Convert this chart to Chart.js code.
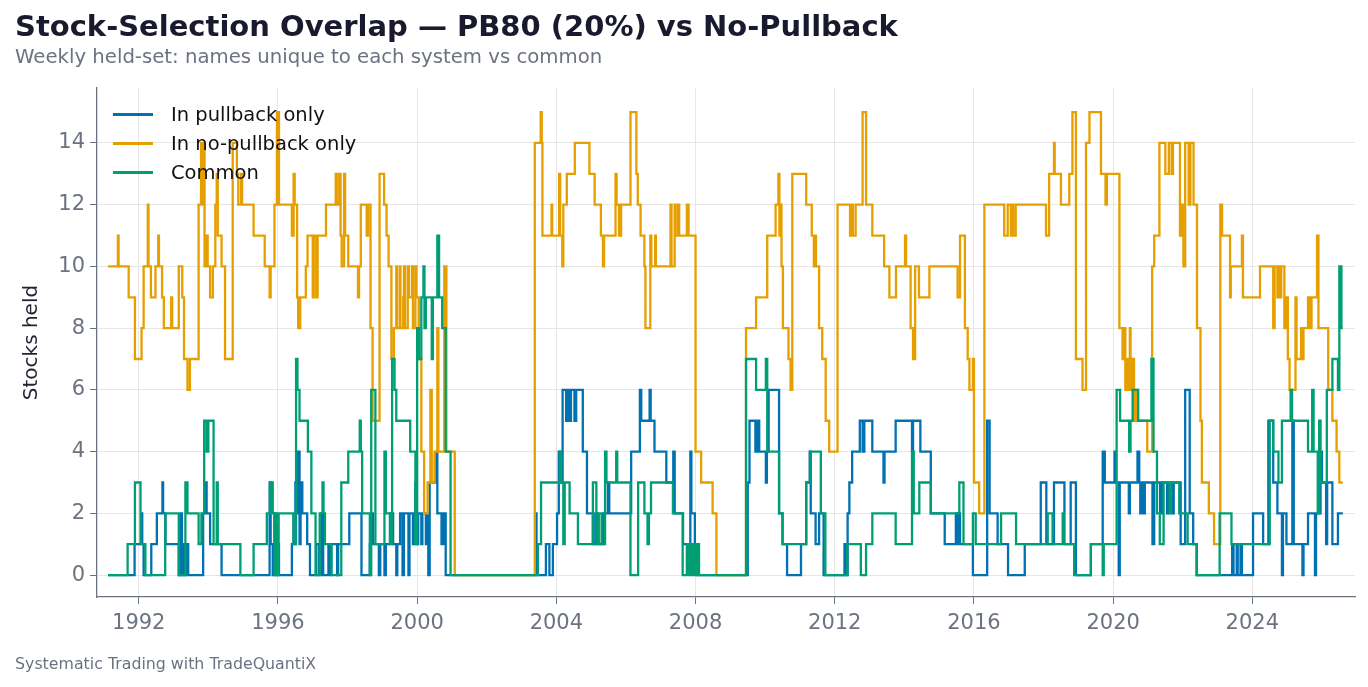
<!DOCTYPE html>
<html>
<head>
<meta charset="utf-8">
<script src="https://cdn.jsdelivr.net/npm/chart.js@4.4.1/dist/chart.umd.min.js"></script>
<style>
  html, body { margin: 0; padding: 0; background: #fff; }
  body { width: 1368px; height: 687px; position: relative; overflow: hidden; font-family: "DejaVu Sans", sans-serif; }
  #chart { position: absolute; left: 0; top: 0; }
  .title { position: absolute; left: 15px; top: 9px; font-size: 29px; font-weight: bold; color: #1a1a2e; white-space: nowrap; }
  .subtitle { position: absolute; left: 15px; top: 45px; font-size: 19.7px; color: #6b7280; white-space: nowrap; }
  .footer { position: absolute; left: 15px; top: 654px; font-size: 15.8px; color: #6b7280; white-space: nowrap; }
  .legend { position: absolute; left: 113px; top: 100px; }
  .legend div { height: 29px; display: flex; align-items: center; font-size: 19.5px; color: #111; }
  .legend span.swatch { display: inline-block; width: 40px; height: 2.3px; margin-right: 18px; }
</style>
</head>
<body>
<canvas id="chart" width="1368" height="687"></canvas>
<div class="title">Stock-Selection Overlap — PB80 (20%) vs No-Pullback</div>
<div class="subtitle">Weekly held-set: names unique to each system vs common</div>
<div class="footer">Systematic Trading with TradeQuantiX</div>
<div class="legend">
  <div><span class="swatch" style="background:#0072B2"></span>In pullback only</div>
  <div><span class="swatch" style="background:#E69F00"></span>In no-pullback only</div>
  <div><span class="swatch" style="background:#009E73"></span>Common</div>
</div>
<script>
// weekly held counts, stored as [year, count] change points (count holds until next point)
const yearTicks = [1992, 1996, 2000, 2004, 2008, 2012, 2016, 2020, 2024];
const countTicks = [0, 2, 4, 6, 8, 10, 12, 14];
const lastWeek = 2026.60;

const pullbackOnly = [
  [1991.12,0],[1991.88,1],[1992.08,2],[1992.10,1],[1992.14,0],[1992.36,1],[1992.52,2],[1992.68,3],[1992.70,2],
  [1992.77,1],[1993.15,0],[1993.20,2],[1993.24,0],[1993.30,1],[1993.33,0],[1993.38,1],[1993.42,0],[1993.85,2],
  [1993.93,3],[1993.95,2],[1994.05,1],[1994.38,0],[1995.76,3],[1995.79,1],[1995.85,0],[1995.90,2],[1995.93,0],
  [1996.00,1],[1996.03,0],[1996.40,1],[1996.50,3],[1996.53,4],[1996.56,2],[1996.58,4],[1996.62,1],[1996.65,3],
  [1996.70,2],[1996.84,1],[1996.92,0],[1997.10,1],[1997.18,0],[1997.25,2],[1997.30,0],[1997.45,1],[1997.50,0],
  [1997.53,1],[1997.70,0],[1997.73,1],[1998.05,2],[1998.40,0],[1998.64,1],[1998.70,2],[1998.73,1],[1998.90,0],
  [1998.94,1],[1999.06,0],[1999.10,1],[1999.22,2],[1999.31,1],[1999.40,0],[1999.43,1],[1999.51,2],[1999.58,0],
  [1999.62,2],[1999.75,0],[1999.78,2],[1999.88,1],[1999.95,3],[1999.98,1],[2000.03,2],[2000.12,1],[2000.15,2],
  [2000.25,1],[2000.28,2],[2000.32,0],[2000.36,3],[2000.55,4],[2000.58,2],[2000.70,1],[2000.76,2],[2000.82,0],
  [2003.40,2],[2003.43,0],[2003.70,1],[2003.80,0],[2003.90,1],[2004.02,2],[2004.07,4],[2004.12,3],[2004.18,6],
  [2004.28,5],[2004.32,6],[2004.38,5],[2004.42,6],[2004.52,5],[2004.57,6],[2004.76,4],[2004.88,2],[2005.05,1],
  [2005.12,2],[2005.18,1],[2005.34,2],[2005.48,3],[2005.52,2],[2006.15,4],[2006.40,6],[2006.44,5],[2006.68,6],
  [2006.71,5],[2006.82,4],[2007.16,3],[2007.36,4],[2007.40,2],[2007.64,1],[2007.85,4],[2007.88,2],[2007.98,1],
  [2008.06,0],[2009.50,3],[2009.55,5],[2009.72,4],[2009.78,5],[2009.83,4],[2010.02,3],[2010.05,4],[2010.10,6],
  [2010.40,2],[2010.50,1],[2010.63,0],[2011.03,1],[2011.18,3],[2011.28,4],[2011.31,2],[2011.45,1],[2011.55,2],
  [2011.68,0],[2012.28,1],[2012.33,0],[2012.37,2],[2012.42,3],[2012.50,4],[2012.72,5],[2012.80,4],[2012.85,5],
  [2013.08,4],[2013.40,3],[2013.43,4],[2013.75,5],[2014.22,4],[2014.25,5],[2014.46,4],[2014.76,2],[2015.16,1],
  [2015.48,2],[2015.52,1],[2015.56,2],[2015.60,1],[2015.97,0],[2016.38,5],[2016.45,2],[2016.68,1],[2016.98,0],
  [2017.46,1],[2017.92,3],[2018.08,1],[2018.30,3],[2018.60,1],[2018.78,3],[2018.93,0],[2019.36,1],[2019.70,4],
  [2019.76,3],[2020.04,4],[2020.08,3],[2020.16,0],[2020.19,3],[2020.45,2],[2020.48,3],[2020.70,4],[2020.75,3],
  [2020.78,2],[2020.82,3],[2020.88,2],[2020.91,3],[2021.13,1],[2021.18,3],[2021.35,2],[2021.40,3],[2021.55,2],
  [2021.58,3],[2021.70,2],[2021.74,3],[2021.94,1],[2022.07,6],[2022.20,2],[2022.30,1],[2022.40,0],[2023.42,1],
  [2023.46,0],[2023.55,1],[2023.58,0],[2023.66,1],[2023.70,0],[2024.02,2],[2024.31,1],[2024.46,5],[2024.60,3],
  [2024.72,2],[2024.85,0],[2024.88,2],[2024.98,1],[2025.15,5],[2025.19,1],[2025.44,0],[2025.47,1],[2025.60,2],
  [2025.80,0],[2025.83,2],[2025.96,4],[2026.00,3],[2026.12,1],[2026.15,3],[2026.30,1],[2026.46,2]
];

const noPullbackOnly = [
  [1991.12,10],[1991.40,11],[1991.42,10],[1991.71,9],[1991.89,7],[1992.08,8],[1992.14,10],[1992.26,12],[1992.28,10],
  [1992.35,9],[1992.48,10],[1992.56,11],[1992.58,10],[1992.67,9],[1992.72,8],[1992.93,9],[1992.96,8],[1993.15,10],
  [1993.25,9],[1993.30,7],[1993.40,6],[1993.47,7],[1993.72,12],[1993.79,14],[1993.82,12],[1993.86,14],[1993.89,10],
  [1993.95,11],[1993.98,10],[1994.05,9],[1994.13,10],[1994.20,12],[1994.24,13],[1994.27,11],[1994.38,10],[1994.48,7],
  [1994.70,14],[1994.82,13],[1994.86,12],[1994.94,13],[1994.97,12],[1995.30,11],[1995.62,10],[1995.76,9],[1995.79,10],
  [1995.90,12],[1995.97,15],[1996.03,12],[1996.40,11],[1996.45,13],[1996.48,12],[1996.55,9],[1996.58,8],[1996.64,9],
  [1996.80,10],[1996.85,11],[1997.00,9],[1997.03,11],[1997.10,9],[1997.14,11],[1997.38,12],[1997.66,13],[1997.69,12],
  [1997.76,13],[1997.80,11],[1997.83,10],[1997.90,13],[1997.93,11],[1998.02,10],[1998.30,9],[1998.33,10],[1998.38,12],
  [1998.55,11],[1998.59,12],[1998.66,8],[1998.72,5],[1998.92,13],[1999.05,12],[1999.12,11],[1999.18,10],[1999.26,7],
  [1999.33,8],[1999.40,10],[1999.42,8],[1999.50,10],[1999.52,8],[1999.60,9],[1999.62,10],[1999.65,8],[1999.73,10],
  [1999.76,9],[1999.85,10],[1999.88,8],[1999.95,10],[1999.98,9],[2000.05,7],[2000.12,4],[2000.20,2],[2000.30,3],
  [2000.38,6],[2000.42,3],[2000.50,4],[2000.58,8],[2000.61,4],[2000.78,10],[2000.84,4],[2001.08,0],[2003.38,14],
  [2003.55,15],[2003.58,14],[2003.60,11],[2003.86,12],[2003.88,11],[2004.08,13],[2004.11,11],[2004.17,10],[2004.20,12],
  [2004.30,13],[2004.53,14],[2004.95,13],[2005.10,12],[2005.28,11],[2005.34,10],[2005.37,11],[2005.70,13],[2005.73,12],
  [2005.80,11],[2005.86,12],[2006.13,15],[2006.30,13],[2006.34,12],[2006.42,11],[2006.53,10],[2006.56,8],[2006.70,11],
  [2006.73,10],[2006.84,11],[2006.86,10],[2007.28,12],[2007.31,10],[2007.40,12],[2007.43,11],[2007.50,12],[2007.53,11],
  [2007.75,12],[2007.80,11],[2008.00,4],[2008.16,3],[2008.49,2],[2008.60,0],[2009.45,8],[2009.74,9],[2010.06,11],
  [2010.30,12],[2010.38,13],[2010.41,11],[2010.44,12],[2010.47,10],[2010.51,8],[2010.67,7],[2010.73,6],[2010.78,13],
  [2011.18,12],[2011.34,11],[2011.40,10],[2011.43,11],[2011.46,10],[2011.55,8],[2011.64,7],[2011.74,5],[2011.84,4],
  [2012.08,12],[2012.44,11],[2012.50,12],[2012.52,11],[2012.60,12],[2012.80,15],[2012.90,12],[2013.08,11],[2013.42,10],
  [2013.57,9],[2013.76,10],[2014.02,11],[2014.05,10],[2014.18,8],[2014.25,7],[2014.31,10],[2014.42,9],[2014.72,10],
  [2015.53,9],[2015.60,11],[2015.74,8],[2015.82,7],[2015.87,6],[2015.97,7],[2016.00,3],[2016.15,2],[2016.30,12],
  [2016.87,11],[2016.97,12],[2017.06,11],[2017.10,12],[2017.13,11],[2017.20,12],[2018.07,11],[2018.16,13],[2018.30,14],
  [2018.32,13],[2018.50,12],[2018.74,13],[2018.83,15],[2018.93,7],[2019.12,6],[2019.22,14],[2019.32,15],[2019.65,13],
  [2019.78,12],[2019.82,13],[2020.18,8],[2020.27,7],[2020.32,8],[2020.35,6],[2020.40,7],[2020.45,6],[2020.48,8],
  [2020.50,6],[2020.56,7],[2020.60,5],[2020.66,6],[2020.70,5],[2020.98,4],[2021.12,10],[2021.18,11],[2021.33,14],
  [2021.50,13],[2021.60,14],[2021.68,13],[2021.72,14],[2021.92,11],[2021.97,12],[2022.02,10],[2022.07,14],[2022.17,12],
  [2022.22,14],[2022.31,12],[2022.41,8],[2022.51,5],[2022.55,3],[2022.75,2],[2022.90,1],[2023.08,12],[2023.13,11],
  [2023.36,9],[2023.38,10],[2023.70,11],[2023.73,9],[2024.22,10],[2024.60,8],[2024.64,10],[2024.72,9],[2024.75,10],
  [2024.80,9],[2024.83,10],[2024.92,8],[2024.98,9],[2025.02,7],[2025.07,6],[2025.24,9],[2025.27,7],[2025.40,8],
  [2025.44,7],[2025.47,8],[2025.60,9],[2025.66,8],[2025.70,9],[2025.86,11],[2025.90,8],[2026.18,6],[2026.30,5],
  [2026.42,4],[2026.50,3]
];

const common = [
  [1991.12,0],[1991.68,1],[1991.89,3],[1992.05,1],[1992.19,0],[1992.76,2],[1993.15,0],[1993.34,3],[1993.40,2],
  [1993.72,1],[1993.80,2],[1993.88,5],[1993.95,4],[1994.00,5],[1994.15,1],[1994.24,3],[1994.27,1],[1994.92,0],
  [1995.30,1],[1995.68,2],[1995.78,3],[1995.85,2],[1995.90,0],[1995.95,2],[1995.98,0],[1996.02,2],[1996.44,1],
  [1996.52,7],[1996.56,6],[1996.62,5],[1996.86,4],[1996.96,2],[1997.08,0],[1997.20,2],[1997.28,3],[1997.31,2],
  [1997.35,1],[1997.54,0],[1997.82,3],[1998.02,4],[1998.35,5],[1998.38,4],[1998.42,2],[1998.64,0],[1998.68,6],
  [1998.80,1],[1999.06,4],[1999.10,2],[1999.22,1],[1999.28,7],[1999.35,6],[1999.40,5],[1999.80,4],[1999.95,1],
  [2000.00,8],[2000.05,7],[2000.12,9],[2000.18,10],[2000.21,8],[2000.25,9],[2000.42,7],[2000.45,9],[2000.58,11],
  [2000.63,9],[2000.72,8],[2000.82,4],[2000.96,0],[2003.47,1],[2003.56,3],[2004.10,4],[2004.14,3],[2004.20,1],
  [2004.24,3],[2004.38,2],[2004.62,1],[2005.05,3],[2005.15,1],[2005.22,2],[2005.30,1],[2005.40,4],[2005.44,3],
  [2005.72,4],[2005.75,3],[2006.13,0],[2006.35,3],[2006.53,2],[2006.62,1],[2006.66,2],[2006.72,3],[2007.35,2],
  [2007.63,0],[2007.75,1],[2007.80,0],[2007.86,1],[2007.90,0],[2007.95,1],[2008.00,0],[2008.04,1],[2008.10,0],
  [2009.45,7],[2009.74,6],[2010.02,7],[2010.06,4],[2010.40,2],[2010.50,1],[2011.18,3],[2011.30,4],[2011.60,2],
  [2011.73,0],[2012.36,1],[2012.75,0],[2012.90,1],[2013.08,2],[2013.75,1],[2014.22,4],[2014.27,2],[2014.43,3],
  [2014.76,2],[2015.58,3],[2015.70,1],[2015.97,2],[2016.05,1],[2016.78,2],[2017.21,1],[2018.12,2],[2018.26,1],
  [2018.55,2],[2018.58,1],[2018.88,0],[2019.36,1],[2019.70,0],[2019.73,1],[2020.10,6],[2020.20,5],[2020.46,4],
  [2020.50,5],[2020.56,6],[2020.72,5],[2021.10,7],[2021.16,4],[2021.26,2],[2021.34,1],[2021.45,3],[2021.62,2],
  [2021.66,3],[2021.90,2],[2022.14,1],[2022.40,0],[2023.06,2],[2023.40,1],[2024.50,5],[2024.60,4],[2024.75,3],
  [2024.85,5],[2025.10,6],[2025.14,5],[2025.60,4],[2025.72,6],[2025.76,4],[2025.88,2],[2025.92,5],[2025.96,3],
  [2026.14,6],[2026.30,7],[2026.46,6],[2026.50,10],[2026.56,8]
];

// turn change points into stepped x/y data, closing at the last week
function toSteps(list) {
  const pts = list.map(p => ({ x: p[0], y: p[1] }));
  pts.push({ x: lastWeek, y: list[list.length - 1][1] });
  return pts;
}

const ctx = document.getElementById('chart').getContext('2d');
const overlapChart = new Chart(ctx, {
    type: 'line',
    data: {
        datasets: [
            { label: 'In pullback only', data: toSteps(pullbackOnly), borderColor: '#0072B2', order: 2 },
            { label: 'In no-pullback only', data: toSteps(noPullbackOnly), borderColor: '#E69F00', order: 1 },
            { label: 'Common', data: toSteps(common), borderColor: '#009E73', order: 0 }
        ]
    },
    options: {
        responsive: false,
        animation: false,
        layout: { padding: { top: 88, right: 13, bottom: 0, left: 0 } },
        elements: {
            line: { stepped: true, borderWidth: 2.3, tension: 0, fill: false, borderJoinStyle: 'miter' },
            point: { radius: 0, hoverRadius: 0 }
        },
        plugins: { legend: { display: false }, tooltip: { enabled: false } },
        scales: {
            x: {
                type: 'linear',
                min: 1990.8,
                max: 2026.95,
                afterFit: s => { s.height = 90; },
                afterBuildTicks: s => { s.ticks = yearTicks.map(v => ({ value: v })); },
                grid: { color: '#e6e6e6', lineWidth: 1, tickColor: '#6b7280', tickLength: 7 },
                border: { color: '#6b7280', width: 1.3 },
                ticks: {
                    color: '#6b7280', padding: 7,
                    font: { family: 'DejaVu Sans', size: 21 },
                    callback: v => String(v)
                }
            },
            y: {
                min: -0.71,
                max: 15.78,
                afterFit: s => { s.width = 97; },
                afterBuildTicks: s => { s.ticks = countTicks.map(v => ({ value: v })); },
                grid: { color: '#e6e6e6', lineWidth: 1, tickColor: '#6b7280', tickLength: 7 },
                border: { color: '#6b7280', width: 1.3 },
                ticks: { color: '#6b7280', padding: 5, font: { family: 'DejaVu Sans', size: 21 } },
                title: {
                    display: true, text: 'Stocks held', color: '#1f2430',
                    font: { family: 'DejaVu Sans', size: 20 }, padding: { top: 20, bottom: 0 }
                }
            }
        }
    }
});
</script>
</body>
</html>
